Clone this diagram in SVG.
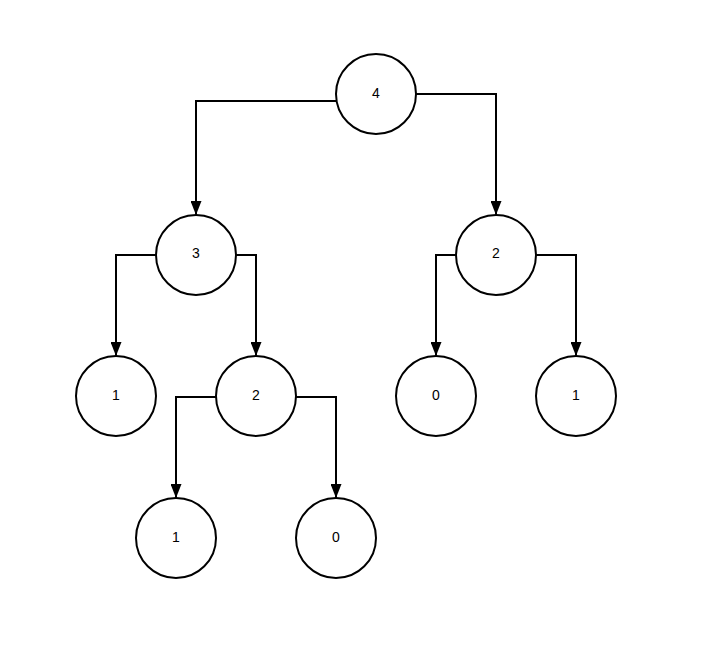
<svg xmlns="http://www.w3.org/2000/svg" width="704" height="646" viewBox="0 0 704 646">
<defs>
<style>
.n circle{fill:#fff;stroke:#000;stroke-width:2}
.n text{font-family:"Liberation Sans",Arial,sans-serif;font-size:14px;fill:#000;text-anchor:middle;dominant-baseline:central}
.e path{fill:none;stroke:#000;stroke-width:2;marker-end:url(#a)}
</style>
<marker id="a" viewBox="0 0 14 11" refX="14" refY="5.5" markerWidth="14" markerHeight="11" markerUnits="userSpaceOnUse" orient="auto">
<path d="M0,0 L14,5.5 L0,11 Z" fill="#000"/>
</marker>
</defs>
<rect width="704" height="646" fill="#fff"/>
<g id="connectors" class="e">
<path d="M336,101 H196 V215"/>
<path d="M416,94 H496 V215"/>
<path d="M156,255 H116 V356"/>
<path d="M236,255 H256 V356"/>
<path d="M456,255 H436 V356"/>
<path d="M536,255 H576 V356"/>
<path d="M216,397 H176 V498"/>
<path d="M296,397 H336 V498"/>
</g>
<g id="n4" class="n"><circle cx="376" cy="94" r="40"/><text x="376" y="93">4</text></g>
<g id="n3" class="n"><circle cx="196" cy="255" r="40"/><text x="196" y="253">3</text></g>
<g id="n2r" class="n"><circle cx="496" cy="255" r="40"/><text x="496" y="253">2</text></g>
<g id="n1a" class="n"><circle cx="116" cy="396" r="40"/><text x="116" y="395">1</text></g>
<g id="n2m" class="n"><circle cx="256" cy="396" r="40"/><text x="256" y="395">2</text></g>
<g id="n0a" class="n"><circle cx="436" cy="396" r="40"/><text x="436" y="395">0</text></g>
<g id="n1b" class="n"><circle cx="576" cy="396" r="40"/><text x="576" y="395">1</text></g>
<g id="n1c" class="n"><circle cx="176" cy="538" r="40"/><text x="176" y="537">1</text></g>
<g id="n0b" class="n"><circle cx="336" cy="538" r="40"/><text x="336" y="537">0</text></g>
</svg>
